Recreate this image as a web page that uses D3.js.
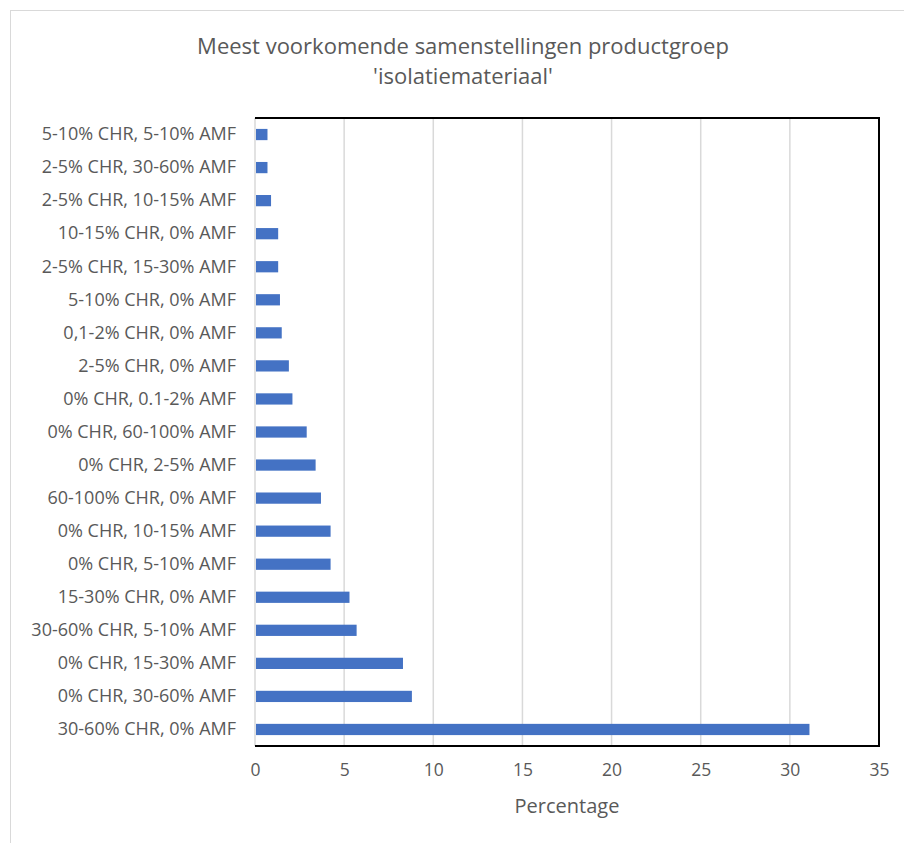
<!DOCTYPE html>
<html>
<head>
<meta charset="utf-8">
<title>Meest voorkomende samenstellingen</title>
<script src="https://d3js.org/d3.v7.min.js"></script>
<style>
  body { margin: 0; background: #fff; }
  text { font-family: "Open Sans", "Liberation Sans", sans-serif; fill: #595959; }
</style>
</head>
<body>
<script>
// categories top to bottom, as in the picture
const categories = [
  "5-10% CHR, 5-10% AMF",
  "2-5% CHR, 30-60% AMF",
  "2-5% CHR, 10-15% AMF",
  "10-15% CHR, 0% AMF",
  "2-5% CHR, 15-30% AMF",
  "5-10% CHR, 0% AMF",
  "0,1-2% CHR, 0% AMF",
  "2-5% CHR, 0% AMF",
  "0% CHR, 0.1-2% AMF",
  "0% CHR, 60-100% AMF",
  "0% CHR, 2-5% AMF",
  "60-100% CHR, 0% AMF",
  "0% CHR, 10-15% AMF",
  "0% CHR, 5-10% AMF",
  "15-30% CHR, 0% AMF",
  "30-60% CHR, 5-10% AMF",
  "0% CHR, 15-30% AMF",
  "0% CHR, 30-60% AMF",
  "30-60% CHR, 0% AMF"
];
const percentages = [0.7, 0.7, 0.9, 1.3, 1.3, 1.4, 1.5, 1.9, 2.1, 2.9, 3.4, 3.7, 4.24, 4.24, 5.3, 5.7, 8.3, 8.8, 31.1];
const xTicks = [0, 5, 10, 15, 20, 25, 30, 35];
const titleLines = ["Meest voorkomende samenstellingen productgroep", "'isolatiemateriaal'"];

const w = 904, h = 843;
const plotL = 255, plotR = 879, plotT = 118, plotB = 746;

const svg = d3.select("body").append("svg")
  .attr("width", w)
  .attr("height", h);

// outer chart border
svg.append("rect")
  .attr("x", 10.5).attr("y", 10.5)
  .attr("width", 905).attr("height", 845)
  .attr("fill", "none")
  .attr("stroke", "#d9d9d9");

const xScale = d3.scaleLinear().domain([0, 35]).range([plotL, plotR]);
const yScale = d3.scaleBand().domain(categories).range([plotT, plotB]).paddingInner(0.66).paddingOuter(0.33);

// gridlines
svg.append("g")
  .selectAll("line")
  .data(xTicks)
  .enter()
  .append("line")
  .attr("x1", d => xScale(d)).attr("x2", d => xScale(d))
  .attr("y1", plotT).attr("y2", plotB)
  .attr("stroke", "#d9d9d9")
  .attr("stroke-width", 1.5);

// bars
svg.selectAll("rect.bar")
  .data(percentages)
  .enter()
  .append("rect")
  .attr("class", "bar")
  .attr("x", xScale(0) + 1)
  .attr("y", (d, i) => yScale(categories[i]))
  .attr("width", d => xScale(d) - xScale(0) - 1)
  .attr("height", yScale.bandwidth())
  .attr("fill", "#4472c4");

// plot frame (top, right, bottom in black)
svg.append("path")
  .attr("d", `M${plotL},${plotT}H${plotR}V${plotB}H${plotL}`)
  .attr("fill", "none")
  .attr("stroke", "#000")
  .attr("stroke-width", 2);

// x axis
const xAxis = d3.axisBottom(xScale).tickValues(xTicks).tickSize(0).tickPadding(18);
const gx = svg.append("g")
  .attr("transform", "translate(0," + plotB + ")")
  .call(xAxis);
gx.select(".domain").remove();
gx.selectAll("text")
  .style("font-size", "17.5px")
  .style("font-family", "'Open Sans', 'Liberation Sans', sans-serif")
  .attr("fill", "#595959");

// y axis
const yAxis = d3.axisLeft(yScale).tickSize(0).tickPadding(19);
const gy = svg.append("g")
  .attr("transform", "translate(" + plotL + ",0)")
  .call(yAxis);
gy.select(".domain").remove();
gy.selectAll("text")
  .style("font-size", "18px")
  .style("font-family", "'Open Sans', 'Liberation Sans', sans-serif")
  .attr("fill", "#595959");

// title
svg.append("g")
  .selectAll("text")
  .data(titleLines)
  .enter()
  .append("text")
  .attr("x", 463)
  .attr("y", (d, i) => 54 + i * 30)
  .attr("text-anchor", "middle")
  .style("font-size", "22px")
  .text(d => d);

// x axis title
svg.append("text")
  .attr("x", xScale(17.5))
  .attr("y", 813)
  .attr("text-anchor", "middle")
  .style("font-size", "20px")
  .text("Percentage");
</script>
</body>
</html>
